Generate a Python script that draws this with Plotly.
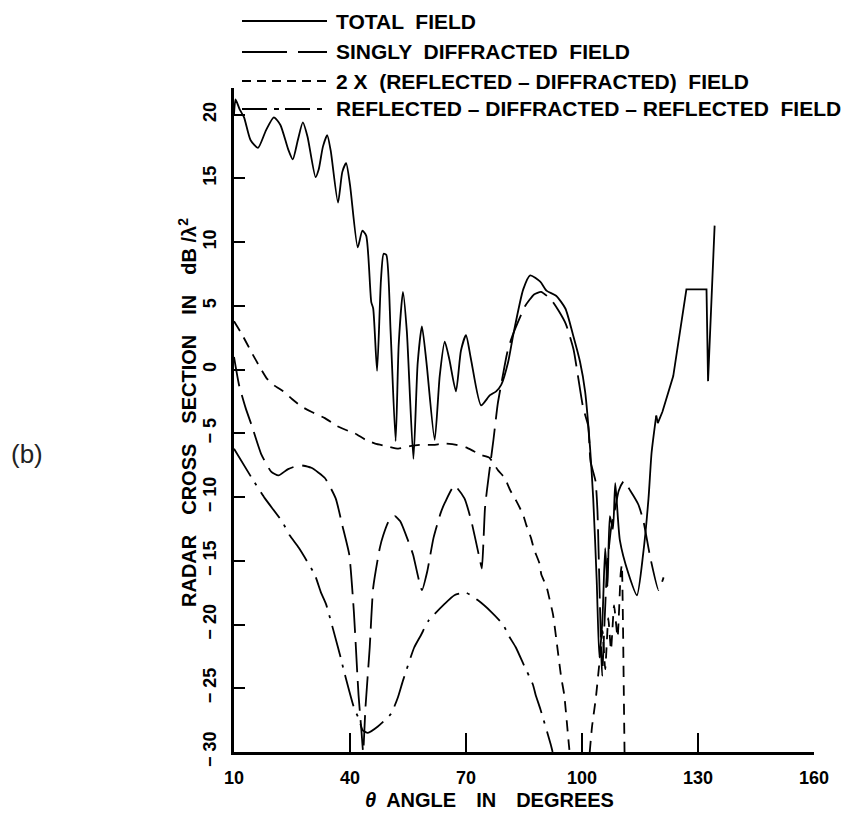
import plotly.graph_objects as go

# ---------------- data ----------------
total_theta = [10.0, 10.4, 11.5, 12.6, 14.3, 16.2, 18.3, 20.3, 22.0, 24.0, 25.2, 26.5, 27.8, 29.0,
               31.1, 31.9, 33.0, 34.1, 35.0, 36.9, 38.0, 39.0, 40.0, 42.0, 43.2, 44.2, 45.5, 46.0,
               47.0, 48.0, 48.7, 49.4, 50.5, 51.8, 52.6, 53.7, 54.7, 56.4, 57.5, 58.6, 59.8, 61.9,
               63.2, 64.5, 65.7, 67.4, 68.7, 70.0, 71.3, 73.9, 76.2, 77.8, 79.1, 80.9, 82.2, 84.8,
               86.6, 89.2, 90.8, 93.3, 95.7, 97.7, 99.5, 100.8, 102.1, 102.9, 103.8, 104.5, 105.3,
               106.0, 106.6, 107.2, 108.0, 108.6, 109.8, 112.0, 114.2, 115.8, 117.2, 118.0, 119.2,
               119.6, 120.8, 123.6, 127.0, 132.2, 132.6, 134.3]
total_db = [20.0, 21.2, 20.4, 19.8, 18.0, 17.4, 18.8, 19.8, 19.2, 17.3, 16.5, 18.0, 19.4, 18.3,
            15.1, 15.7, 17.5, 18.4, 17.2, 13.1, 15.5, 16.2, 14.5, 9.6, 10.9, 10.5, 5.3, 4.8,
            -0.1, 7.0, 9.1, 9.0, 3.0, -5.6, 2.0, 6.1, 3.0, -7.0, 0.5, 3.4, 0.5, -5.5,
            -0.5, 2.2, 0.8, -1.7, 1.5, 2.7, 0.8, -2.8, -2.0, -1.7, -1.2, 0.6, 2.7, 6.3,
            7.4, 6.9, 6.2, 5.8, 4.8, 2.7, 0.6, -1.7, -6.2, -10.1, -16.5, -22.6, -19.5,
            -14.0, -17.0, -11.5, -12.5, -8.9, -13.4, -16.0, -17.7, -14.5, -10.1, -6.5, -3.6,
            -4.2, -3.3, -0.5, 6.3, 6.3, -0.9, 11.3]

singly_theta = [10.0, 11.3, 13.0, 14.6, 17.0, 19.6, 21.5, 24.0, 27.0, 30.0, 33.5, 36.3, 38.0, 39.8,
                41.0, 42.2, 43.0, 43.4, 44.0, 45.1, 46.0, 47.7, 48.6, 50.0, 51.6, 53.0, 55.0, 56.3,
                58.6, 60.0, 61.6, 63.5, 64.6, 67.0, 69.6, 71.4, 73.5, 74.1, 74.5, 74.9, 75.4, 76.5,
                77.1, 78.2, 79.5, 80.6, 81.6, 82.7, 85.3, 87.6, 89.4, 92.0, 94.0, 95.8, 97.8, 100.3,
                101.6, 102.2, 103.5, 104.0, 104.6, 105.2, 105.8, 106.5, 107.5, 108.5, 109.5, 110.8,
                112.5, 114.6, 115.9, 117.7, 119.8, 121.1]
singly_db = [1.0, -1.2, -3.0, -4.4, -6.6, -8.0, -8.3, -7.8, -7.5, -7.7, -8.5, -10.1, -12.2, -14.5,
             -19.0, -25.5, -28.5, -30.0, -26.5, -21.8, -17.1, -14.0, -13.0, -11.9, -11.5, -11.9, -13.4, -14.5,
             -17.3, -15.8, -13.2, -11.2, -10.4, -9.1, -10.1, -11.9, -14.8, -15.6, -13.6, -10.9, -9.5, -6.9,
             -5.5, -2.7, -0.5, 1.25, 2.3, 3.2, 5.0, 5.9, 6.1, 5.5, 4.6, 3.6, 1.6, -3.0,
             -4.4, -7.2, -8.75, -11.1, -18.0, -24.0, -20.0, -15.5, -12.5, -11.0, -9.5, -8.75,
             -9.5, -10.6, -11.9, -14.8, -17.3, -16.3]

double_theta = [10.0, 12.0, 15.0, 16.5, 18.5, 20.5, 22.7, 25.0, 27.5, 30.0, 33.5, 36.5, 39.5, 41.3,
                44.0, 46.5, 49.5, 52.5, 55.5, 58.0, 61.5, 64.5, 67.5, 70.0, 72.0, 74.0, 76.0, 78.3,
                80.0, 81.5, 83.0, 84.8, 85.6, 86.8, 87.6, 89.0, 89.5, 90.8, 91.6, 92.5, 93.5, 94.6,
                95.4, 96.6, 96.8, None, 102.0, 102.6, 103.6, 104.5, 105.3, 106.0, 106.8, 107.5,
                108.3, 109.2, 110.0, 110.3, 110.6, 110.8, 111.0]
double_db = [3.8, 2.8, 1.1, 0.3, -0.7, -1.25, -1.7, -2.3, -2.9, -3.3, -3.8, -4.4, -4.8, -5.0,
             -5.5, -5.8, -6.0, -6.2, -6.0, -5.9, -5.9, -5.8, -5.9, -6.1, -6.4, -6.7, -6.9, -7.9,
             -8.5, -9.5, -10.3, -11.4, -12.2, -13.2, -14.1, -15.2, -16.1, -17.0, -18.0, -19.2, -21.5, -24.1,
             -25.5, -29.4, -30.0, None, -30.0, -28.0, -25.7, -23.0, -20.5, -23.5, -19.5, -22.0,
             -18.5, -21.0, -16.0, -15.3, -20.0, -25.0, -30.0]

rdr_theta = [10.0, 14.6, 18.0, 22.4, 24.4, 26.8, 30.9, 32.5, 33.8, 36.9, 37.6, 38.4, 41.0, 42.3,
             43.3, 44.6, 47.2, 50.6, 52.4, 53.7, 56.6, 58.4, 60.3, 64.4, 67.0, 70.0, 73.1, 76.5,
             79.6, 81.1, 82.9, 85.0, 87.3, 88.0, 89.3, 91.9, 92.4]
rdr_db = [-6.2, -8.5, -10.1, -11.9, -13.0, -14.0, -16.1, -17.5, -18.4, -21.8, -22.6, -23.6, -26.5, -27.4,
          -28.3, -28.5, -28.0, -27.0, -25.7, -24.4, -21.8, -20.8, -19.7, -18.4, -17.7, -17.5, -18.1, -19.0,
          -20.0, -20.9, -21.8, -23.2, -24.7, -25.5, -26.7, -29.4, -30.0]

x_ticks = [10, 40, 70, 100, 130, 160]
x_ticklabels = ["10", "40", "70", "100", "130", "160"]
y_ticks = [-30, -25, -20, -15, -10, -5, 0, 5, 10, 15, 20]
y_ticklabels = ["− 30", "− 25", "− 20", "− 15", "− 10", "− 5", "0", "5", "10", "15", "20"]

legend_labels = [
    "TOTAL  FIELD",
    "SINGLY  DIFFRACTED  FIELD",
    "2 X  (REFLECTED – DIFFRACTED)  FIELD",
    "REFLECTED – DIFFRACTED – REFLECTED  FIELD",
]

# ---------------- figure ----------------
FONT = "Liberation Sans"
LW = 1.8
split = total_theta.index(119.2)

fig = go.Figure()
fig.add_trace(go.Scatter(x=total_theta[:split + 1], y=total_db[:split + 1], mode="lines",
                         line=dict(color="black", width=LW, shape="spline", smoothing=0.6),
                         showlegend=False))
fig.add_trace(go.Scatter(x=total_theta[split:], y=total_db[split:], mode="lines",
                         line=dict(color="black", width=LW), showlegend=False))
fig.add_trace(go.Scatter(x=singly_theta, y=singly_db, mode="lines",
                         line=dict(color="black", width=LW, dash="30px,9px", shape="spline", smoothing=0.5),
                         showlegend=False))
fig.add_trace(go.Scatter(x=double_theta, y=double_db, mode="lines", connectgaps=False,
                         line=dict(color="black", width=LW, dash="11px,8px", shape="spline", smoothing=0.5),
                         showlegend=False))
fig.add_trace(go.Scatter(x=rdr_theta, y=rdr_db, mode="lines",
                         line=dict(color="black", width=LW, dash="32px,8px,3px,8px", shape="spline", smoothing=0.5),
                         showlegend=False))

# legend drawn as samples + text (long samples as in the reference)
W, H = 848, 814
L, R, T, B = 234, 34, 88, 62
pw, ph = W - L - R, H - T - B


def px_x(p):
    return (p - L) / pw


def px_y(p):
    return (H - B - p) / ph


rows_y = [21, 52, 81, 109]
dashes = ["solid", "45px,11px", "9px,6px", "25px,7px,5px,6px"]
for ry, d, lab in zip(rows_y, dashes, legend_labels):
    fig.add_shape(type="line", xref="paper", yref="paper",
                  x0=px_x(242), x1=px_x(327), y0=px_y(ry), y1=px_y(ry),
                  line=dict(color="black", width=2, dash=d))
    fig.add_annotation(xref="paper", yref="paper", x=px_x(334), y=px_y(ry),
                       text="<b>" + lab + "</b>", showarrow=False, xanchor="left", yanchor="middle",
                       font=dict(family=FONT, size=21, color="black"))

fig.add_annotation(xref="paper", yref="paper", x=px_x(489), y=px_y(800),
                   text="<b><i>θ</i>\u2002ANGLE\u2002\u2002IN\u2002\u2002DEGREES</b>", showarrow=False,
                   xanchor="center", yanchor="middle", borderpad=0,
                   font=dict(family=FONT, size=20, color="black"))
fig.add_annotation(xref="paper", yref="paper", x=px_x(187), y=px_y(413), textangle=-90,
                   text="<b>RADAR\u2002\u2002CROSS\u2002\u2002SECTION\u2002\u2002IN\u2002\u2002dB /λ<sup>2</sup></b>",
                   showarrow=False, xanchor="center", yanchor="middle",
                   font=dict(family=FONT, size=20, color="black"))
fig.add_annotation(xref="paper", yref="paper", x=px_x(27), y=px_y(454),
                   text="(b)", showarrow=False, xanchor="center", yanchor="middle",
                   font=dict(family=FONT, size=26, color="#222"))

fig.update_xaxes(range=[10, 160], tickmode="array", tickvals=x_ticks,
                 ticktext=["<b>" + t + "</b>" for t in x_ticklabels],
                 ticks="inside", ticklen=19, tickwidth=2, tickcolor="black",
                 showline=True, linewidth=2.5, linecolor="black",
                 showgrid=False, zeroline=False, ticklabelstandoff=8,
                 tickfont=dict(family=FONT, size=18, color="black"))
fig.update_yaxes(range=[-30, 22.1], tickmode="array", tickvals=y_ticks,
                 ticktext=["<b>" + t + "</b>" for t in y_ticklabels], tickangle=-90,
                 ticks="inside", ticklen=11, tickwidth=2, tickcolor="black",
                 showline=True, linewidth=2.5, linecolor="black",
                 showgrid=False, zeroline=False, ticklabelstandoff=8,
                 tickfont=dict(family=FONT, size=18, color="black"))

fig.update_layout(width=W, height=H, margin=dict(l=L, r=R, t=T, b=B),
                  paper_bgcolor="white", plot_bgcolor="white", showlegend=False)

fig.write_html("out.html", config={"displayModeBar": False},
               post_script="document.body.style.margin='0px';document.body.style.overflow='hidden';")
